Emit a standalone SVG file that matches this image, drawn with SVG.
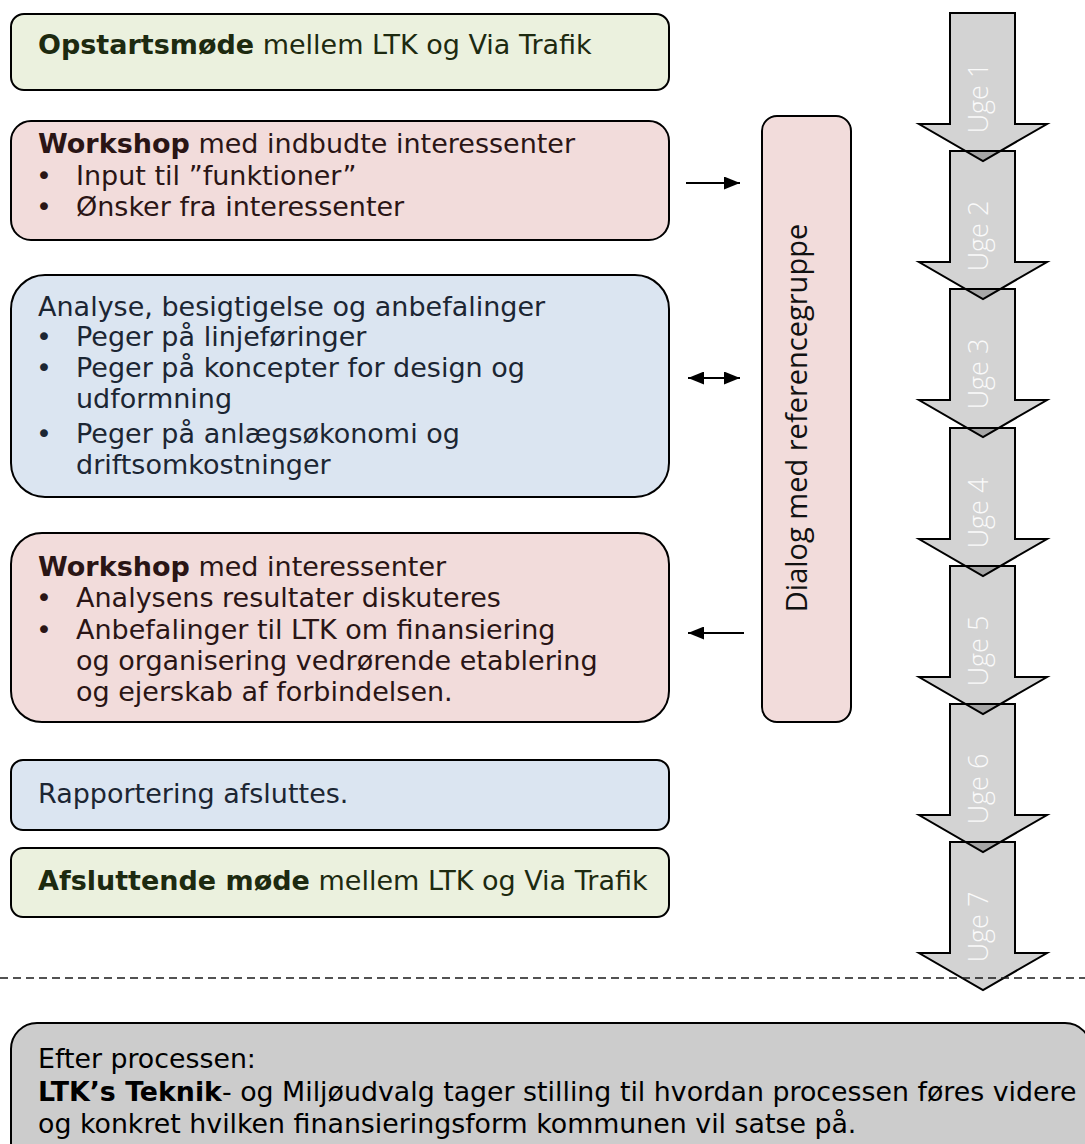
<svg xmlns="http://www.w3.org/2000/svg" width="1085" height="1144" viewBox="0 0 1085 1144">
<defs>
<style>
.box{stroke:#000;stroke-width:2}
.green{fill:#ebf1de}
.pink{fill:#f2dcdb}
.blue{fill:#dbe5f1}
.gray{fill:#cccccc}
.t{font-family:"DejaVu Sans",Verdana,sans-serif;font-size:27px}
.tg{fill:#1d2a10}
.tp{fill:#2a1515}
.tb{fill:#1c2633}
.b{font-weight:bold}
.dlg{font-family:"Open Sans","Noto Sans",sans-serif;font-size:29px;fill:#111}
.uge{font-family:"Open Sans","Noto Sans",sans-serif;font-weight:300;font-size:27px;fill:#fafafa}
.arrowbody{fill:#d3d3d3;stroke:none}
.arrowline{fill:none;stroke:#000;stroke-width:2;stroke-linejoin:miter}
.ov{fill:#a6a6a6;stroke:none}
.conn{stroke:#000;stroke-width:2;fill:none}
</style>
<marker id="ah" viewBox="0 0 16 13" refX="16" refY="6.5" markerWidth="16" markerHeight="13" markerUnits="userSpaceOnUse" orient="auto-start-reverse">
<path d="M0,0 L16,6.5 L0,13 z" fill="#000"/>
</marker>
<path id="wk" d="M950,0 L1015,0 L1015,111 L1047,111 L983,148 L919,111 L950,111 Z"/>
</defs>
<rect width="1085" height="1144" fill="#fff"/>

<g id="n-opstart">
<rect class="box green" x="11" y="14" width="658" height="76" rx="13"/>
<text class="t tg" x="38" y="54"><tspan class="b">Opstartsmøde</tspan> mellem LTK og Via Trafik</text>
</g>

<g id="n-workshop1">
<rect class="box pink" x="11" y="121" width="658" height="119" rx="20"/>
<text class="t tp" x="38" y="153"><tspan class="b">Workshop</tspan> med indbudte interessenter</text>
<text class="t tp" x="36" y="185">•</text>
<text class="t tp" x="76" y="185">Input til ”funktioner”</text>
<text class="t tp" x="36" y="216">•</text>
<text class="t tp" x="76" y="216">Ønsker fra interessenter</text>
</g>

<g id="n-analyse">
<rect class="box blue" x="11" y="275" width="658" height="222" rx="34"/>
<text class="t tb" x="38" y="316">Analyse, besigtigelse og anbefalinger</text>
<text class="t tb" x="36" y="346">•</text>
<text class="t tb" x="76" y="346">Peger på linjeføringer</text>
<text class="t tb" x="36" y="377">•</text>
<text class="t tb" x="76" y="377">Peger på koncepter for design og</text>
<text class="t tb" x="76" y="408">udformning</text>
<text class="t tb" x="36" y="443">•</text>
<text class="t tb" x="76" y="443">Peger på anlægsøkonomi og</text>
<text class="t tb" x="76" y="474">driftsomkostninger</text>
</g>

<g id="n-workshop2">
<rect class="box pink" x="11" y="533" width="658" height="189" rx="31"/>
<text class="t tp" x="38" y="576"><tspan class="b">Workshop</tspan> med interessenter</text>
<text class="t tp" x="36" y="607">•</text>
<text class="t tp" x="76" y="607">Analysens resultater diskuteres</text>
<text class="t tp" x="36" y="639">•</text>
<text class="t tp" x="76" y="639">Anbefalinger til LTK om finansiering</text>
<text class="t tp" x="76" y="670">og organisering vedrørende etablering</text>
<text class="t tp" x="76" y="701">og ejerskab af forbindelsen.</text>
</g>

<g id="n-rapport">
<rect class="box blue" x="11" y="760" width="658" height="70" rx="12"/>
<text class="t tb" x="38" y="803">Rapportering afsluttes.</text>
</g>

<g id="n-afslut">
<rect class="box green" x="11" y="848" width="658" height="69" rx="12"/>
<text class="t tg" x="38" y="890"><tspan class="b">Afsluttende møde</tspan> mellem LTK og Via Trafik</text>
</g>

<g id="n-dialog">
<rect class="box pink" x="762" y="116" width="89" height="606" rx="15"/>
<text class="dlg" x="807" y="418" text-anchor="middle" transform="rotate(-90 807 418)">Dialog med referencegruppe</text>
</g>

<g id="n-uger">
<g id="n-uge-bodies">
<use href="#wk" class="arrowbody" y="13"/>
<use href="#wk" class="arrowbody" y="151"/>
<use href="#wk" class="arrowbody" y="289"/>
<use href="#wk" class="arrowbody" y="428"/>
<use href="#wk" class="arrowbody" y="566"/>
<use href="#wk" class="arrowbody" y="704"/>
<use href="#wk" class="arrowbody" y="842"/>
<polygon class="ov" points="966,151 1000,151 983,161"/>
<polygon class="ov" points="966,289 1000,289 983,299"/>
<polygon class="ov" points="966,428 1000,428 983,437"/>
<polygon class="ov" points="966,566 1000,566 983,576"/>
<polygon class="ov" points="966,704 1000,704 983,714"/>
<polygon class="ov" points="966,842 1000,842 983,852"/>
</g>
<g id="n-uge-outlines">
<use href="#wk" class="arrowline" y="13"/>
<use href="#wk" class="arrowline" y="151"/>
<use href="#wk" class="arrowline" y="289"/>
<use href="#wk" class="arrowline" y="428"/>
<use href="#wk" class="arrowline" y="566"/>
<use href="#wk" class="arrowline" y="704"/>
<use href="#wk" class="arrowline" y="842"/>
</g>
<g id="n-uge-labels">
<text class="uge" x="988" y="98" text-anchor="middle" transform="rotate(-90 988 98)">Uge 1</text>
<text class="uge" x="988" y="236" text-anchor="middle" transform="rotate(-90 988 236)">Uge 2</text>
<text class="uge" x="988" y="374" text-anchor="middle" transform="rotate(-90 988 374)">Uge 3</text>
<text class="uge" x="988" y="513" text-anchor="middle" transform="rotate(-90 988 513)">Uge 4</text>
<text class="uge" x="988" y="651" text-anchor="middle" transform="rotate(-90 988 651)">Uge 5</text>
<text class="uge" x="988" y="789" text-anchor="middle" transform="rotate(-90 988 789)">Uge 6</text>
<text class="uge" x="988" y="927" text-anchor="middle" transform="rotate(-90 988 927)">Uge 7</text>
</g>
</g>

<g id="connectors">
<line class="conn" x1="686" y1="183" x2="740" y2="183" marker-end="url(#ah)"/>
<line class="conn" x1="688" y1="378" x2="740" y2="378" marker-start="url(#ah)" marker-end="url(#ah)"/>
<line class="conn" x1="744" y1="633" x2="688" y2="633" marker-end="url(#ah)"/>
</g>

<line id="separator" x1="0" y1="978" x2="1085" y2="978" stroke="#1a1a1a" stroke-width="1.5" stroke-dasharray="8 5"/>

<g id="n-efter">
<rect class="box gray" x="11" y="1023" width="1080" height="150" rx="26"/>
<text class="t" x="38" y="1068" fill="#000" style="font-size:26.8px">Efter processen:</text>
<text class="t" x="38" y="1101" fill="#000" style="font-size:26.8px"><tspan class="b">LTK’s Teknik</tspan>- og Miljøudvalg tager stilling til hvordan processen føres videre</text>
<text class="t" x="38" y="1133" fill="#000" style="font-size:26.8px">og konkret hvilken finansieringsform kommunen vil satse på.</text>
</g>
</svg>
